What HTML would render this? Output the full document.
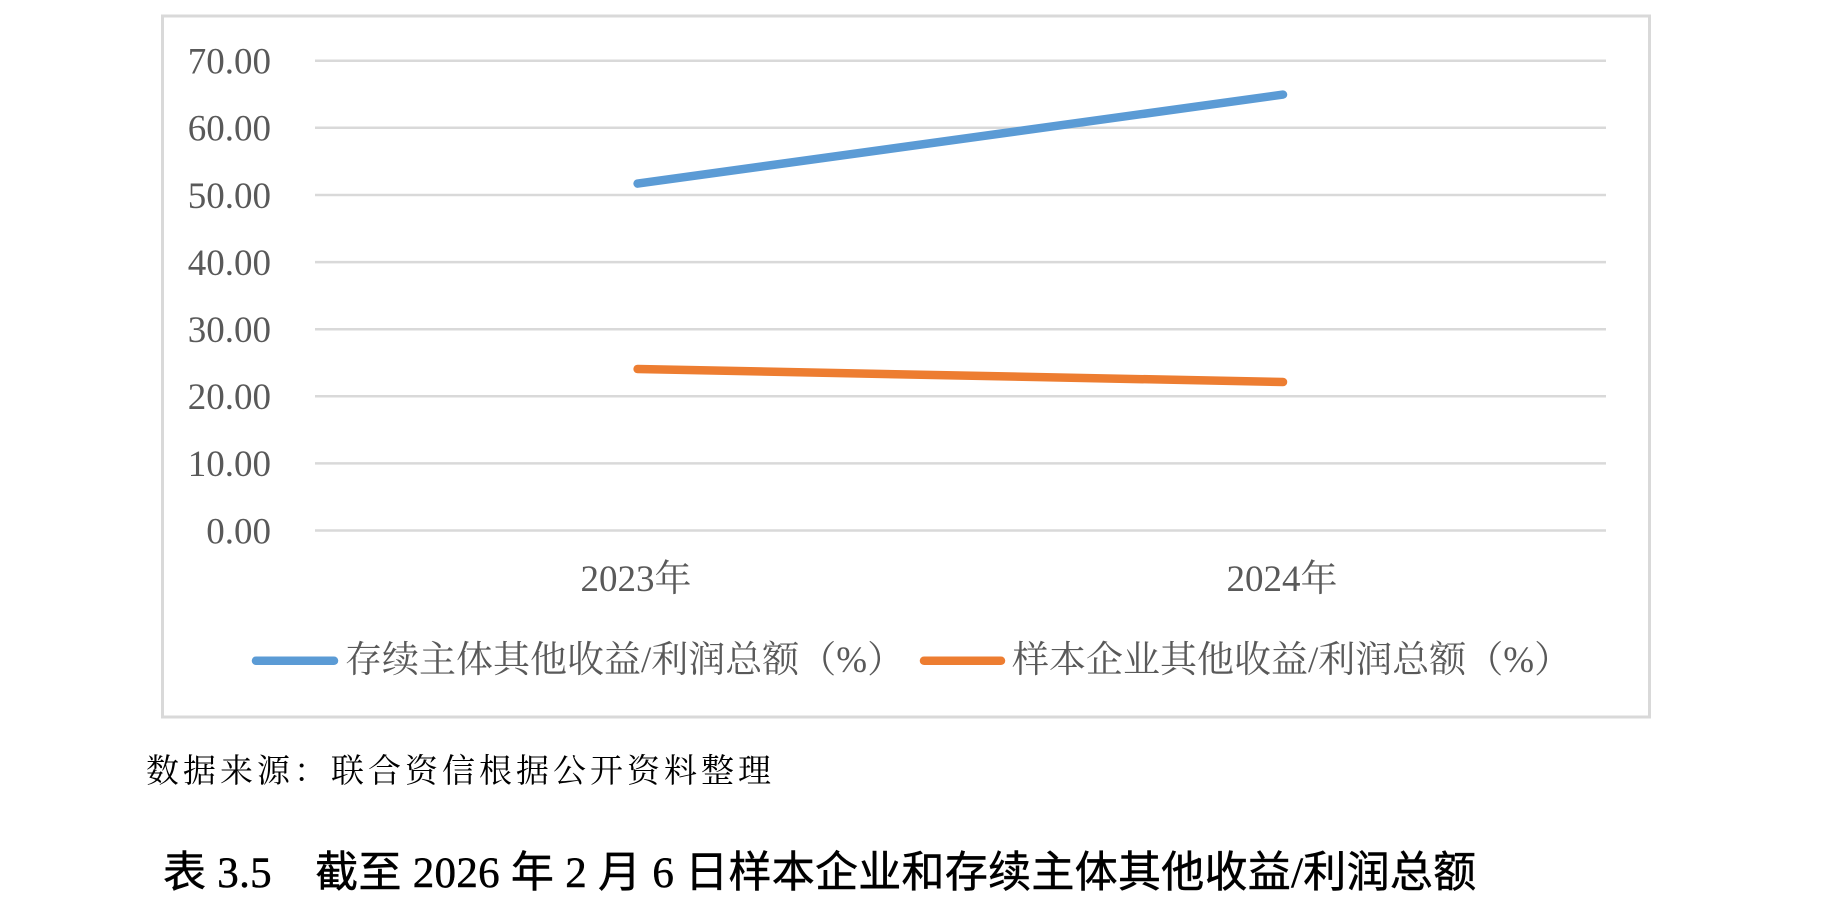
<!DOCTYPE html>
<html>
<head>
<meta charset="utf-8">
<style>
  html, body { margin:0; padding:0; background:#ffffff; }
  body { width:1822px; height:908px; overflow:hidden; position:relative; }
  svg { position:absolute; left:0; top:0; }
</style>
</head>
<body>
<svg width="1822" height="908" viewBox="0 0 1822 908" xmlns="http://www.w3.org/2000/svg">
  <rect x="0" y="0" width="1822" height="908" fill="#ffffff"/>
  <!-- chart frame -->
  <rect x="162.5" y="16" width="1487" height="701" fill="#ffffff" stroke="#d9d9d9" stroke-width="3"/>

  <!-- gridlines -->
  <g stroke="#d9d9d9" stroke-width="2.5">
    <line x1="315" y1="530.5" x2="1606" y2="530.5"/>
    <line x1="315" y1="463.4" x2="1606" y2="463.4"/>
    <line x1="315" y1="396.3" x2="1606" y2="396.3"/>
    <line x1="315" y1="329.2" x2="1606" y2="329.2"/>
    <line x1="315" y1="262.1" x2="1606" y2="262.1"/>
    <line x1="315" y1="195.0" x2="1606" y2="195.0"/>
    <line x1="315" y1="127.8" x2="1606" y2="127.8"/>
    <line x1="315" y1="60.7" x2="1606" y2="60.7"/>
  </g>

  <!-- y labels -->
  <g font-family="'Liberation Serif', serif" font-size="37" fill="#595959" text-anchor="end">
    <text x="271" y="543.3">0.00</text>
    <text x="271" y="476.2">10.00</text>
    <text x="271" y="409.1">20.00</text>
    <text x="271" y="342.0">30.00</text>
    <text x="271" y="274.9">40.00</text>
    <text x="271" y="207.8">50.00</text>
    <text x="271" y="140.6">60.00</text>
    <text x="271" y="73.5">70.00</text>
  </g>

  <!-- x labels -->
  <g font-family="'Liberation Serif', 'Noto Serif CJK SC', serif" font-size="37" fill="#595959" text-anchor="middle">
    <text x="636" y="591">2023年</text>
    <text x="1282" y="591">2024年</text>
  </g>

  <!-- series -->
  <line x1="637.6" y1="183.6" x2="1283" y2="94.6" stroke="#5b9bd5" stroke-width="8.5" stroke-linecap="round"/>
  <line x1="637.6" y1="369" x2="1283" y2="382" stroke="#ed7d31" stroke-width="8.5" stroke-linecap="round"/>

  <!-- legend -->
  <line x1="256" y1="660.7" x2="334" y2="660.7" stroke="#5b9bd5" stroke-width="8.5" stroke-linecap="round"/>
  <line x1="924" y1="660.7" x2="1001" y2="660.7" stroke="#ed7d31" stroke-width="8.5" stroke-linecap="round"/>
  <g font-family="'Liberation Serif', 'Noto Serif CJK SC', serif" font-size="37" fill="#595959">
    <text x="345" y="672">存续主体其他收益/利润总额（%）</text>
    <text x="1012" y="672">样本企业其他收益/利润总额（%）</text>
  </g>

  <!-- source note -->
  <text x="146" y="782" font-family="'Liberation Serif', 'Noto Serif CJK SC', serif" font-size="33" letter-spacing="4" fill="#000000">数据来源：联合资信根据公开资料整理</text>

  <!-- title -->
  <text x="163" y="887" font-family="'Liberation Serif', 'Noto Sans CJK SC', sans-serif" font-size="43" letter-spacing="0.28" fill="#000000" stroke="#000000" stroke-width="0.5" xml:space="preserve">表 3.5　截至 2026 年 2 月 6 日样本企业和存续主体其他收益/利润总额</text>
</svg>
</body>
</html>
